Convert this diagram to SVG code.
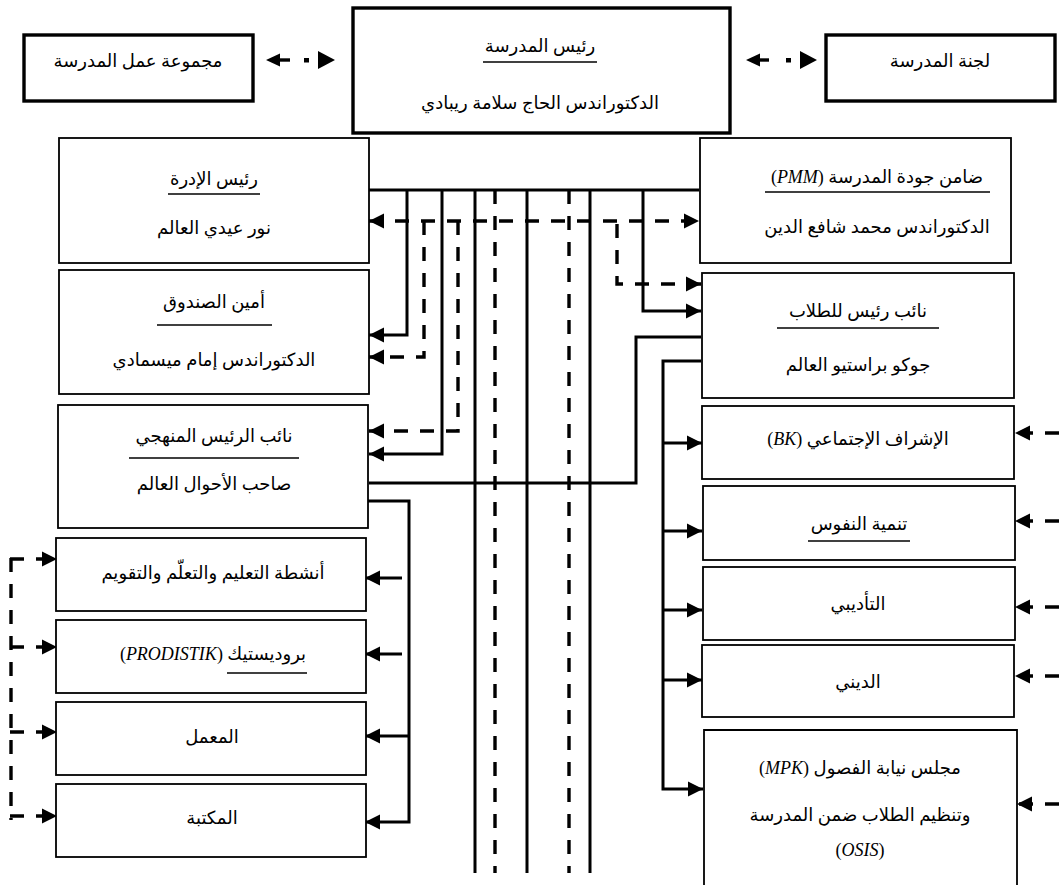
<svg xmlns="http://www.w3.org/2000/svg" width="1059" height="885" viewBox="0 0 1059 885">
<style>
.box{fill:#fff;stroke:#000;stroke-width:1.8}
.bold{stroke-width:3.4}
.s{fill:none;stroke:#000;stroke-width:3}
.d{fill:none;stroke:#000;stroke-width:3.4;stroke-dasharray:14 12}
.t{font-family:'Liberation Serif','DejaVu Sans',serif;font-size:18px;text-anchor:middle;dominant-baseline:central;direction:rtl}
.i{font-style:italic}
.u{stroke:#000;stroke-width:1.6}
.ah{fill:#000}
</style>
<defs>
<marker id="a" markerUnits="userSpaceOnUse" markerWidth="16" markerHeight="16" refX="15" refY="8" orient="auto-start-reverse">
<path d="M0,0.5 L15,8 L0,15.5 z" fill="#000"/>
</marker>
</defs>
<rect width="1059" height="885" fill="#fff"/>

<g id="connectors">
<!-- top double arrows -->
<polygon class="ah" points="266,60 280,53.5 280,66.5"/>
<line x1="279" y1="60" x2="290" y2="60" stroke="#000" stroke-width="3.4"/>
<rect x="304" y="58" width="5" height="4.5" fill="#000"/>
<polygon class="ah" points="318,51 318,69 335,60"/>
<polygon class="ah" points="746,60 760,53.5 760,66.5"/>
<line x1="759" y1="60" x2="769" y2="60" stroke="#000" stroke-width="3.4"/>
<rect x="786" y="58" width="5" height="4.5" fill="#000"/>
<polygon class="ah" points="800,51 800,69 817,60"/>

<!-- solid -->
<path class="s" d="M369 190 H699"/>
<path class="s" d="M407 190 V335 H369" marker-end="url(#a)"/>
<path class="s" d="M442 190 V454 H369" marker-end="url(#a)"/>
<path class="s" d="M475 190 V873"/>
<path class="s" d="M527 190 V873"/>
<path class="s" d="M590 190 V873"/>
<path class="s" d="M643 190 V311 H701" marker-end="url(#a)"/>
<path class="s" d="M701 337 H636 V483 H369"/>
<path class="s" d="M701 361 H663 V789 H703" marker-end="url(#a)"/>
<path class="s" d="M663 443 H702" marker-end="url(#a)"/>
<path class="s" d="M663 531 H702" marker-end="url(#a)"/>
<path class="s" d="M663 610 H702" marker-end="url(#a)"/>
<path class="s" d="M663 680 H702" marker-end="url(#a)"/>
<path class="s" d="M366 501 H409 V822 H365" marker-end="url(#a)"/>
<path class="s" d="M402 578 H365" marker-end="url(#a)"/>
<path class="s" d="M402 654 H365" marker-end="url(#a)"/>
<path class="s" d="M409 736 H365" marker-end="url(#a)"/>

<!-- dashed -->
<path class="d" d="M369 221 H699" marker-start="url(#a)" marker-end="url(#a)"/>
<path class="d" d="M424 221 V357 H369" marker-end="url(#a)"/>
<path class="d" d="M458 221 V431 H369" marker-end="url(#a)"/>
<path class="d" d="M495 190 V873"/>
<path class="d" d="M569 190 V873"/>
<path class="d" d="M617 224 V284 H701" marker-end="url(#a)"/>
<path class="d" d="M11 558 V820"/>
<path class="d" d="M10 559 H57" marker-end="url(#a)"/>
<path class="d" d="M10 647 H57" marker-end="url(#a)"/>
<path class="d" d="M10 732 H57" marker-end="url(#a)"/>
<path class="d" d="M10 816 H57" marker-end="url(#a)"/>
<path class="d" d="M1059 433 H1015" marker-end="url(#a)"/>
<path class="d" d="M1059 521 H1015" marker-end="url(#a)"/>
<path class="d" d="M1059 607 H1015" marker-end="url(#a)"/>
<path class="d" d="M1059 676 H1015" marker-end="url(#a)"/>
<path class="d" d="M1059 804 H1017" marker-end="url(#a)"/>
</g>

<g id="pokja">
<rect class="box bold" x="24" y="35" width="229" height="66"/>
<text class="t" x="138" y="61">مجموعة عمل المدرسة</text>
</g>
<g id="kepala">
<rect class="box bold" x="353" y="8" width="377" height="125"/>
<text class="t" x="540" y="46">رئيس المدرسة</text>
<line class="u" x1="483" y1="62" x2="597" y2="62"/>
<text class="t" x="540" y="103">الدكتوراندس الحاج سلامة ريبادي</text>
</g>
<g id="komite">
<rect class="box bold" x="826" y="35" width="229" height="66"/>
<text class="t" x="940" y="61">لجنة المدرسة</text>
</g>

<g id="kaur-tu">
<rect class="box" x="59" y="138" width="310" height="125"/>
<text class="t" x="214" y="179">رئيس الإدرة</text>
<line class="u" x1="168" y1="194" x2="260" y2="194"/>
<text class="t" x="214" y="228">نور عيدي العالم</text>
</g>
<g id="bendahara">
<rect class="box" x="59" y="270" width="310" height="124"/>
<text class="t" x="214" y="302">أمين الصندوق</text>
<line class="u" x1="157" y1="325" x2="272" y2="325"/>
<text class="t" x="214" y="360">الدكتوراندس إمام ميسمادي</text>
</g>
<g id="waka-kurikulum">
<rect class="box" x="58" y="405" width="310" height="123"/>
<text class="t" x="214" y="436">نائب الرئيس المنهجي</text>
<line class="u" x1="129" y1="458" x2="299" y2="458"/>
<text class="t" x="214" y="484">صاحب الأحوال العالم</text>
</g>
<g id="kbm">
<rect class="box" x="56" y="538" width="310" height="73"/>
<text class="t" x="213" y="573">أنشطة التعليم والتعلّم والتقويم</text>
</g>
<g id="prodistik">
<rect class="box" x="56" y="620" width="310" height="73"/>
<text class="t" x="213" y="654">بروديستيك (<tspan class="i">PRODISTIK</tspan>)</text>
<line class="u" x1="227" y1="673" x2="307" y2="673"/>
</g>
<g id="lab">
<rect class="box" x="56" y="702" width="310" height="73"/>
<text class="t" x="212" y="737">المعمل</text>
</g>
<g id="perpustakaan">
<rect class="box" x="56" y="784" width="310" height="73"/>
<text class="t" x="212" y="818">المكتبة</text>
</g>

<g id="pmm">
<rect class="box" x="700" y="138" width="311" height="125"/>
<text class="t" x="877" y="177">ضامن جودة المدرسة (<tspan class="i">PMM</tspan>)</text>
<line class="u" x1="765" y1="192" x2="990" y2="192"/>
<text class="t" x="877" y="227">الدكتوراندس محمد شافع الدين</text>
</g>
<g id="waka-kesiswaan">
<rect class="box" x="702" y="273" width="312" height="125"/>
<text class="t" x="858" y="311">نائب رئيس للطلاب</text>
<line class="u" x1="777" y1="328" x2="939" y2="328"/>
<text class="t" x="858" y="365">جوكو براستيو العالم</text>
</g>
<g id="bk">
<rect class="box" x="702" y="406" width="312" height="73"/>
<text class="t" x="858" y="439">الإشراف الإجتماعي (<tspan class="i">BK</tspan>)</text>
</g>
<g id="tanmiya">
<rect class="box" x="703" y="486" width="312" height="74"/>
<text class="t" x="859" y="524">تنمية النفوس</text>
<line class="u" x1="808" y1="541" x2="910" y2="541"/>
</g>
<g id="tadibi">
<rect class="box" x="703" y="567" width="312" height="73"/>
<text class="t" x="858" y="604">التأديبي</text>
</g>
<g id="dini">
<rect class="box" x="702" y="645" width="312" height="72"/>
<text class="t" x="858" y="682">الديني</text>
</g>
<g id="mpk-osis">
<path class="box" d="M704 895 V730 H1017 V895"/>
<text class="t" x="860" y="768">مجلس نيابة الفصول (<tspan class="i">MPK</tspan>)</text>
<text class="t" x="860" y="815">وتنظيم الطلاب ضمن المدرسة</text>
<text class="t" x="860" y="850">(<tspan class="i">OSIS</tspan>)</text>
</g>
</svg>
